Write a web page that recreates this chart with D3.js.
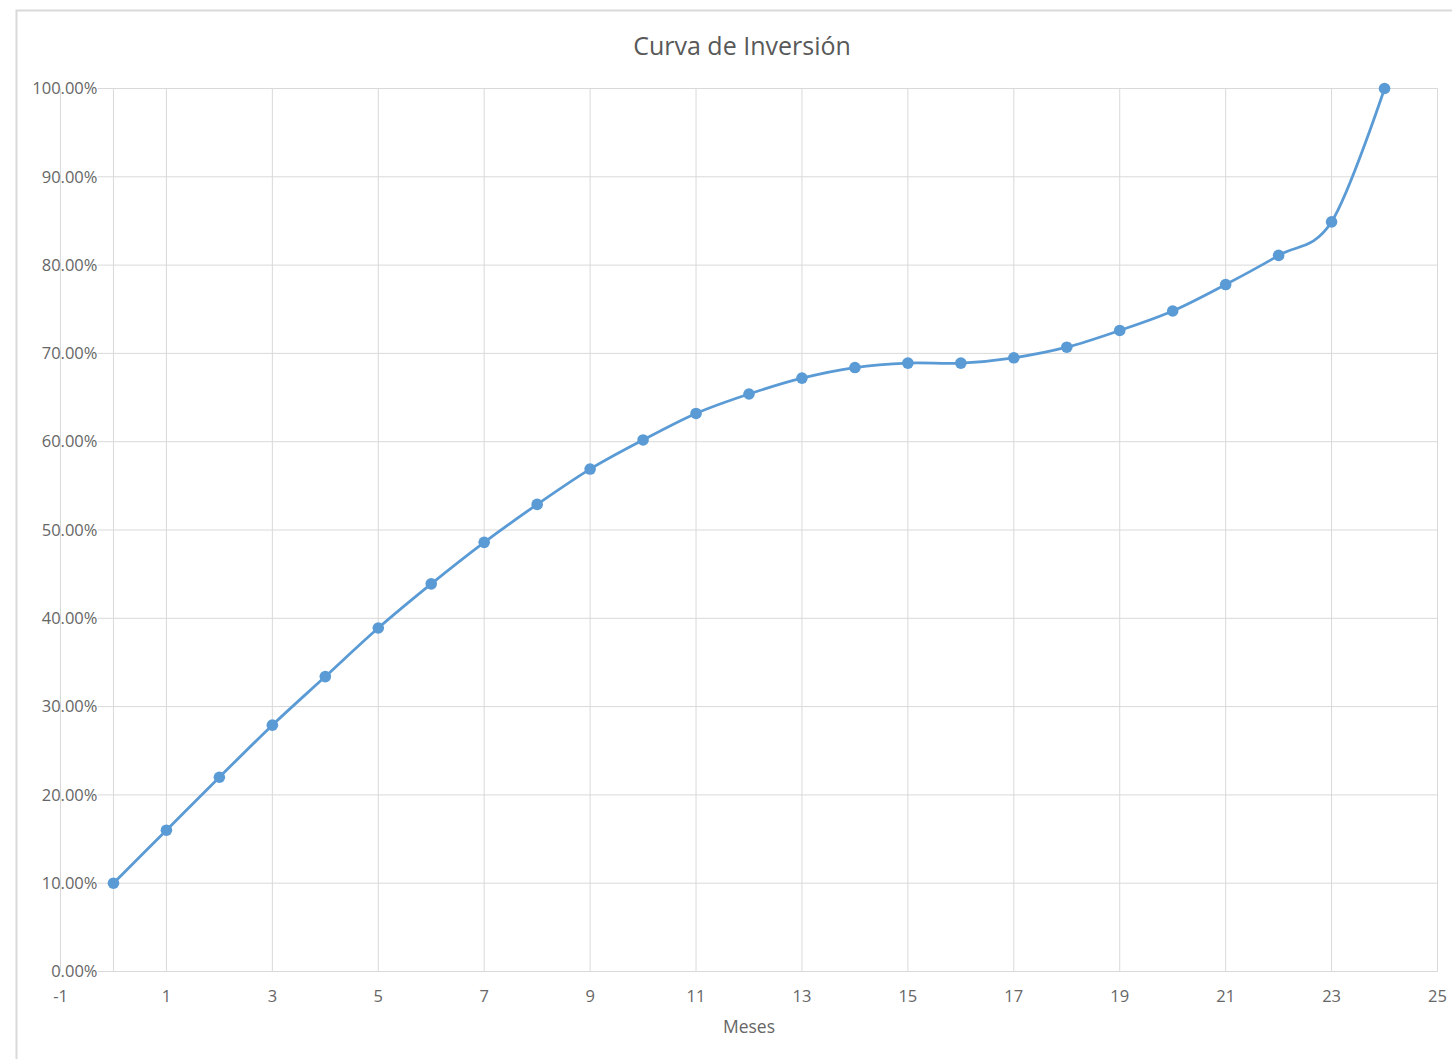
<!DOCTYPE html>
<html><head><meta charset="utf-8">
<script src="https://cdn.jsdelivr.net/npm/d3@7"></script>
<style>body{margin:0;background:#fff;}svg{display:block;font-family:"Open Sans",Lato,sans-serif;}</style>
</head><body>
<script>
const title = "Curva de Inversión";
const xLabel = "Meses";
const months = [0,1,2,3,4,5,6,7,8,9,10,11,12,13,14,15,16,17,18,19,20,21,22,23,24];
const values = [10.0,16.0,22.0,27.9,33.4,38.9,43.9,48.6,52.9,56.9,60.2,63.2,65.4,67.2,68.4,68.9,68.9,69.5,70.7,72.6,74.8,77.8,81.1,84.9,100.0];
const xTicks = [-1,1,3,5,7,9,11,13,15,17,19,21,23,25];
const yTicks = [0,10,20,30,40,50,60,70,80,90,100];

const W = 1452, H = 1059;
const svg = d3.select("body").append("svg").attr("width", W).attr("height", H);

// outer frame
svg.append("path").attr("d", `M16.5,${H} V10.5 H${W}`).attr("fill","none").attr("stroke","#d9d9d9").attr("stroke-width",2);

const x = d3.scaleLinear().domain([-1,25]).range([60.5,1437.5]);
const y = d3.scaleLinear().domain([0,100]).range([971.5,88.5]);

// vertical gridlines
svg.append("g").selectAll("line").data(xTicks).join("line")
  .attr("x1", d=>x(d)).attr("x2", d=>x(d)).attr("y1", y(100)).attr("y2", y(0))
  .attr("stroke","#d9d9d9").attr("stroke-width",1);
// horizontal gridlines
svg.append("g").selectAll("line").data(yTicks).join("line")
  .attr("x1", x(0)-16).attr("x2", x(25)).attr("y1", d=>y(d)).attr("y2", d=>y(d))
  .attr("stroke","#d9d9d9").attr("stroke-width",1);
// y axis line at x=0
svg.append("line").attr("x1", x(0)).attr("x2", x(0)).attr("y1", y(100)).attr("y2", y(0))
  .attr("stroke","#d9d9d9").attr("stroke-width",1);

// y tick labels
svg.append("g").selectAll("text").data(yTicks).join("text")
  .attr("x", x(0)-16).attr("y", d=>y(d)).attr("dy","0.35em").attr("text-anchor","end")
  .attr("font-size",16.5).attr("fill","#666").text(d=>d3.format(".2f")(d)+"%");
// x tick labels
svg.append("g").selectAll("text").data(xTicks).join("text")
  .attr("x", d=>x(d)).attr("y", y(0)+30).attr("text-anchor","middle")
  .attr("font-size",16.5).attr("fill","#666").text(d=>d);

// title & axis title
svg.append("text").attr("x",742).attr("y",55).attr("text-anchor","middle")
  .attr("font-size",25).attr("fill","#595959").text(title);
svg.append("text").attr("x",749).attr("y",1033).attr("text-anchor","middle")
  .attr("font-size",17.5).attr("fill","#666").text(xLabel);

const data = months.map((m,i)=>({m, v: values[i]}));
const line = d3.line().x(d=>x(d.m)).y(d=>y(d.v)).curve(d3.curveCatmullRom.alpha(0));
svg.append("path").datum(data).attr("d", line).attr("fill","none")
  .attr("stroke","#5b9bd5").attr("stroke-width",2.8).attr("stroke-linecap","round");
svg.append("g").selectAll("circle").data(data).join("circle")
  .attr("cx", d=>x(d.m)).attr("cy", d=>y(d.v)).attr("r",5.8).attr("fill","#5b9bd5");
</script>
</body></html>
